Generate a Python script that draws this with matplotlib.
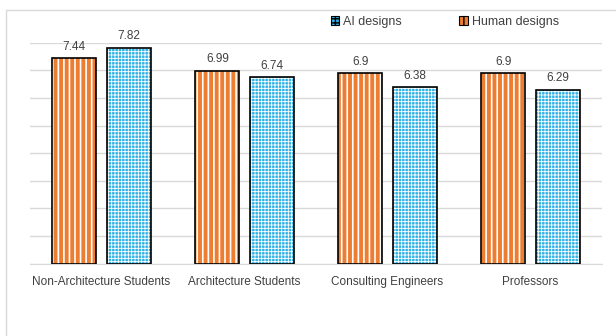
import matplotlib.pyplot as plt
import matplotlib.patches as mpatches
import numpy as np

categories = ['Non-Architecture Students', 'Architecture Students',
              'Consulting Engineers', 'Professors']
human = [7.44, 6.99, 6.9, 6.9]
ai = [7.82, 6.74, 6.38, 6.29]

ORANGE = '#ED7D31'
BLUE = '#2FB3E6'
TEXT = '#404040'

plt.rcParams['font.family'] = ['Liberation Sans Narrow', 'Liberation Sans', 'DejaVu Sans']

fig = plt.figure(figsize=(6.16, 3.36), dpi=100)
ax = fig.add_axes([30/616, 1 - 263.5/336, 572/616, 220.8/336])

# light frame around the chart area
fig.patches.append(mpatches.Rectangle((6/616, -0.05), 1.0, 1 - 10/336 + 0.05,
                                      transform=fig.transFigure, fill=False,
                                      edgecolor='#D9D9D9', linewidth=1))

x = np.arange(len(categories))
w = 0.31
off = 0.19

# fill + white hatch, then black outline on top
with plt.rc_context({'hatch.linewidth': 1.2}):
    ax.bar(x - off, human, w, color=ORANGE, hatch='|||', edgecolor='white', linewidth=0, zorder=2)
with plt.rc_context({'hatch.linewidth': 0.6}):
    ax.bar(x + off, ai, w, color=BLUE, hatch='+++++', edgecolor='white', linewidth=0, zorder=2)
ax.bar(x - off, human, w, fill=False, edgecolor='black', linewidth=1.2, zorder=3)
ax.bar(x + off, ai, w, fill=False, edgecolor='black', linewidth=1.2, zorder=3)

for xi, v in zip(x, human):
    ax.text(xi - off, v + 0.2, f'{v:g}', ha='center', va='bottom', fontsize=8.5, color=TEXT)
for xi, v in zip(x, ai):
    ax.text(xi + off, v + 0.2, f'{v:g}', ha='center', va='bottom', fontsize=8.5, color=TEXT)

ax.set_xlim(-0.5, len(categories) - 0.5)
ax.set_ylim(0, 8)
ax.set_yticks(range(0, 9))
ax.yaxis.grid(True, color='#D9D9D9', linewidth=1)
ax.set_axisbelow(True)
ax.tick_params(axis='y', left=False, labelleft=False)
ax.tick_params(axis='x', length=0, pad=9, labelsize=8.5, labelcolor=TEXT)
ax.set_xticks(x)
ax.set_xticklabels(categories)
for s in ['top', 'right', 'left']:
    ax.spines[s].set_visible(False)
ax.spines['bottom'].set_color('#D9D9D9')

with plt.rc_context({'hatch.linewidth': 0.6}):
    h_ai = mpatches.Patch(facecolor=BLUE, hatch='++++', edgecolor='black', linewidth=0.8)
with plt.rc_context({'hatch.linewidth': 1.0}):
    h_hu = mpatches.Patch(facecolor=ORANGE, hatch='|||', edgecolor='black', linewidth=0.8)
fig.legend([h_ai, h_hu], ['AI designs', 'Human designs'], loc='center',
           bbox_to_anchor=(0.722, 1 - 22/336), ncol=2, frameon=False,
           fontsize=9, handlelength=0.7, handleheight=0.7, handletextpad=0.3,
           columnspacing=4.6, labelcolor=TEXT)

fig.savefig('out.png', dpi=100)
